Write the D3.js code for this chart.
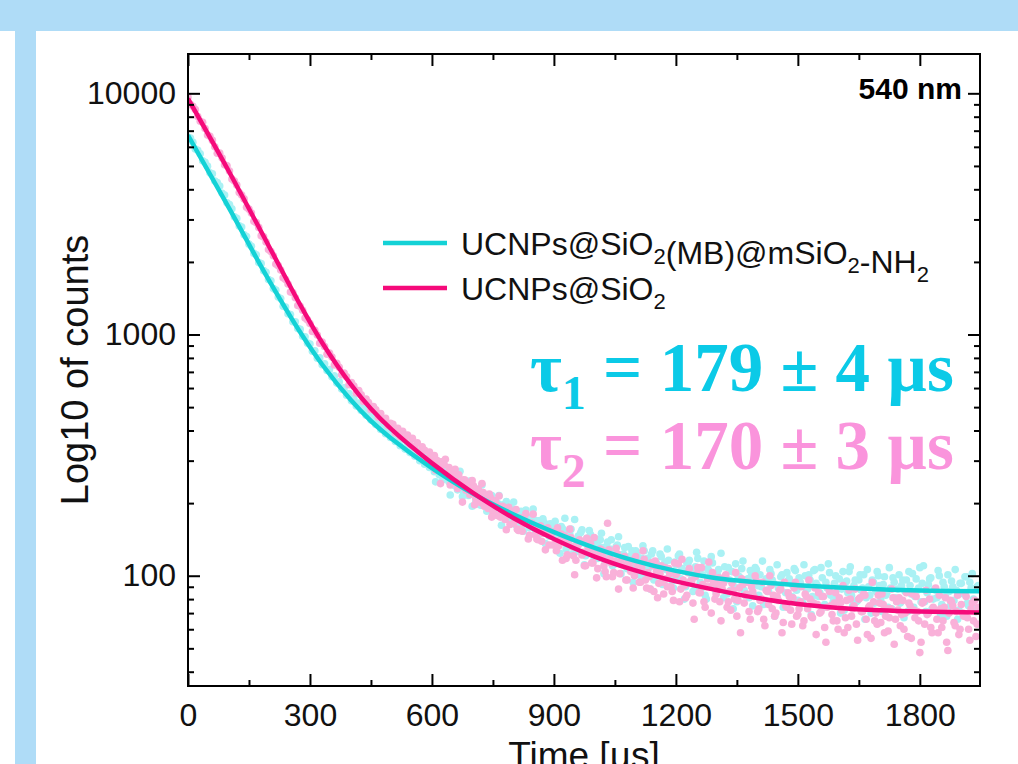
<!DOCTYPE html>
<html>
<head>
<meta charset="utf-8">
<script src="https://cdn.jsdelivr.net/npm/d3@7"></script>
<style>
body { margin: 0; background: #fff; }
text { font-family: "Liberation Sans", Arial, sans-serif; }
</style>
</head>
<body>
<script>
// decay data: one count value every tStep microseconds starting at 0,
// plus a second, interleaved run of samples for the later part of the decay
const tStep = 6;
const lateStart = 603;

const pinkCounts = [
  9640,9010,8830,8560,8010,7660,7590,7150,6720,6640,
  6380,6000,5640,5650,5390,5060,5010,4760,4410,4330,
  4170,3880,3790,3650,3370,3310,3190,2950,2910,2780,
  2570,2540,2420,2250,2210,2120,1960,1930,1850,1720,
  1690,1620,1500,1490,1420,1320,1310,1260,1170,1150,
  1110,1030,1040,995,921,930,892,829,838,806,
  748,760,731,681,692,668,619,632,611,572,
  586,563,528,540,522,489,503,487,455,470,
  441,449,420,428,
  424,391,409,378,397,369,383,351,371,344,
  356,325,342,331,307,326,296,315,301,280,
  297,289,264,281,258,271,246,262,239,250,
  226,243,221,
  236,209,229,201,221,215,190,211,184,205,
  196,175,194,171,188,163,182,176,156,174,
  153,170,166,147,165,160,142,158,139,156,
  151,134,149,
  152,127,133,149,141,118,137,144,121,116,
  134,139,125,110,131,136,113,124,107,129,
  120,104,165,118,99,115,123,102,111,120,
  96,109,116,100,
  112,94,108,117,89,99,113,86,104,93,
  110,84,97,107,90,79,101,112,88,96,
  81,103,95,77,99,108,85,92,74,97,
  90,103,80,
  92,78,88,99,74,86,93,80,68,89,
  97,77,84,71,90,82,95,73,80,66,
  87,76,91,83,70,79,88,64,75,85,
  72,81,94,69,
  78,62,84,73,80,67,89,76,70,82,
  61,74,86,69,77,65,81,72,58,79,
  87,68,75,63,80,71,84,66,74,55,
  78,70,83,64,
  76,68,59,73,81,66,72,62,79,70,
  56,75,84,67,71,48,77,63,69,80,
  58,72,66,83,61,74,53,70,78,64,
  71,57,76,68,82,60,73,65,56,74
];

const pinkLate = [
  314,274,287,241,288,304,258,238,263,276,
  230,243,202,249,235,217,248,197,226,208,
  241,194,203,218,175,202,178,214,181,186,
  155,192,185,165,188,154,171,164,181,142,
  165,180,148,141,161,150,128,158,149,134,
  135,158,141,116,146,122,156,132,101,136,
  141,122,110,143,127,113,144,98,122,128,
  110,99,128,113,103,130,88,115,119,96,
  114,104,89,120,107,94,127,96,103,88,
  110,115,81,102,94,108,90,102,86,113,
  103,78,117,91,83,107,95,66,102,85,
  108,78,90,114,70,94,84,98,65,93,
  101,78,72,87,103,79,58,92,83,94,
  66,86,100,71,79,94,62,86,100,73,
  68,82,87,58,94,74,82,63,89,68,
  73,90,65,82,96,68,77,57,85,71,
  82,53,89,75,65,85,60,77,91,67,
  61,80,73,88,54,81,71,83,57,75,
  94,65,63,77,84,58,73,67,88,52,
  78,81,69,60,85,77,55,72,82,65,
  53,78,87,70,61,74,89,58,73,65,
  81,49,79,75,62,83,60,70,85,67,
  54,77,79,63
];

const cyanCounts = [
  6590,6530,6270,5880,5810,5610,5250,5180,4990,4680,
  4640,4330,4270,4130,3850,3790,3520,3460,3320,3080,
  3030,2820,2790,2590,2550,2370,2320,2170,2140,1990,
  1970,1840,1810,1690,1670,1550,1530,1430,1410,1310,
  1300,1220,1210,1130,1130,1060,1050,984,979,921,
  913,852,856,797,800,749,757,709,716,668,
  675,629,637,594,602,560,569,531,543,506,
  520,484,497,463,476,442,455,424,436,404,
  416,388,401,374,
  392,360,377,346,367,335,354,324,342,313,
  329,300,318,290,308,281,297,270,288,262,
  277,252,268,245,261,237,252,230,245,223,
  238,215,231,
  229,203,222,196,216,211,189,209,185,204,
  199,179,197,175,193,171,189,184,166,184,
  163,179,175,158,174,170,153,169,150,166,
  162,146,161,
  163,139,144,160,153,129,149,156,132,127,
  146,151,137,121,143,148,124,136,118,141,
  131,114,138,129,110,127,134,112,122,131,
  107,120,127,110,
  122,104,118,127,99,108,123,96,113,102,
  120,93,106,116,99,89,111,121,97,105,
  90,113,104,86,109,118,94,101,83,107,
  99,113,89,
  101,88,97,109,84,96,104,90,78,99,
  107,87,94,81,100,92,106,83,90,76,
  97,86,102,93,80,89,99,74,85,95,
  82,91,105,79,
  94,77,100,88,96,82,106,91,85,98,
  76,89,103,84,93,80,97,88,72,95,
  104,83,91,78,96,87,101,81,90,70,
  94,86,100,79,
  92,83,74,89,98,81,88,77,96,86,
  71,91,102,82,87,108,93,78,85,97,
  73,88,81,100,76,90,68,86,95,79,
  87,72,93,84,99,75,89,80,71,91
];

const cyanLate = [
  295,245,277,297,251,256,276,216,257,261,
  227,271,213,233,220,247,194,230,220,198,
  238,203,185,212,215,188,196,215,162,195,
  203,172,179,202,162,181,185,153,187,163,
  168,189,151,169,152,172,136,158,164,148,
  168,142,124,157,173,141,149,123,171,126,
  138,155,111,143,154,124,117,142,132,150,
  102,132,121,141,111,132,145,102,123,110,
  132,115,94,127,119,100,133,108,118,88,
  127,111,100,123,92,114,129,100,95,114,
  96,123,107,80,113,116,97,87,125,102,
  89,115,80,105,120,96,86,106,124,81,
  97,108,87,73,112,100,90,115,83,97,
  105,75,108,91,101,115,79,87,106,96,
  68,111,91,101,76,103,97,82,107,87,
  98,78,111,88,101,69,105,93,82,108,
  74,94,112,83,78,100,89,70,104,94,
  85,109,75,96,79,101,89,66,106,83,
  96,77,104,91,71,99,85,108,73,94,
  80,101,91,67,96,104,84,74,97,89,
  78,110,71,92,98,80,87,105,69,94,
  82,101,75,90,106,66,93,85,99,77,
  94,102,73,90
];

// fitted decay curves
const fitTimes = [0,100,200,280,330,400,450,500,600,700,800,900,1000,1100,1200,1300,1400,1500,1600,1700,1800,1948];
const pinkFit  = [9500,4764,2307,1291,925,623,492,405,293,221,173.6,142,120,105.2,94.8,87.2,80.8,76.3,73.5,71.9,71.0,70.4];
const cyanFit  = [6700,3365,1669,997,751,536,438,371,279.5,219.5,179.9,151.7,130.6,115.3,104.7,97.7,94.0,91.4,89.3,87.8,86.8,86.2];

const xTicks = [0,300,600,900,1200,1500,1800];
const xMinor = [150,450,750,1050,1350,1650];
const yTicks = [100,1000,10000];
const yMinor = [40,50,60,70,80,90,200,300,400,500,600,700,800,900,2000,3000,4000,5000,6000,7000,8000,9000];

const W = 1018, H = 764;
const m = {l: 188, t: 54, r: 980, b: 686};

const svg = d3.select("body").append("svg")
  .attr("width", W)
  .attr("height", H);

svg.append("rect").attr("width", W).attr("height", H).attr("fill", "#fff");
// light blue frame strips
svg.append("rect").attr("x", 0).attr("y", 0).attr("width", W).attr("height", 31).attr("fill", "#afdcf7");
svg.append("rect").attr("x", 15).attr("y", 31).attr("width", 21).attr("height", H - 31).attr("fill", "#afdcf7");

const x = d3.scaleLinear().domain([0, 1948]).range([m.l, m.r]);
const y = d3.scaleLog().domain([34.9, 14555]).range([m.b, m.t]);

svg.append("clipPath").attr("id", "plot")
  .append("rect")
  .attr("x", m.l).attr("y", m.t)
  .attr("width", m.r - m.l).attr("height", m.b - m.t);

const data = svg.append("g").attr("clip-path", "url(#plot)");

function dots(counts, t0, color) {
  data.append("g")
    .selectAll("circle")
    .data(counts)
    .join("circle")
    .attr("cx", (d, i) => x(t0 + i * tStep))
    .attr("cy", d => y(d))
    .attr("r", 3.8)
    .attr("fill", color);
}
dots(cyanCounts, 0, "#aaf1f4");
dots(cyanLate, lateStart, "#aaf1f4");
dots(pinkCounts, 0, "#f9b1d9");
dots(pinkLate, lateStart, "#f9b1d9");

const line = d3.line()
  .x((d, i) => x(fitTimes[i]))
  .y(d => y(d))
  .curve(d3.curveCatmullRom.alpha(0.5));

data.append("path").attr("d", line(cyanFit))
  .attr("fill", "none").attr("stroke", "#14d2d6").attr("stroke-width", 4.5);
data.append("path").attr("d", line(pinkFit))
  .attr("fill", "none").attr("stroke", "#f50a7a").attr("stroke-width", 4.5);

// axes, ticks pointing inward on all four sides
function styleAxis(g) {
  g.select(".domain").remove();
  g.selectAll(".tick line").attr("stroke", "#000").attr("stroke-width", 2);
  g.selectAll(".tick text").attr("fill", "#111").style("font-size", "32px")
    .style("font-family", "'Liberation Sans', Arial, sans-serif");
}

svg.append("g").attr("transform", `translate(0,${m.b})`)
  .call(d3.axisBottom(x).tickValues(xTicks).tickSize(-12).tickPadding(17).tickFormat(d3.format("d")))
  .call(styleAxis);
svg.append("g").attr("transform", `translate(0,${m.b})`)
  .call(d3.axisBottom(x).tickValues(xMinor).tickSize(-6).tickFormat(""))
  .call(styleAxis);
svg.append("g").attr("transform", `translate(0,${m.t})`)
  .call(d3.axisTop(x).tickValues(xTicks).tickSize(-12).tickFormat(""))
  .call(styleAxis);
svg.append("g").attr("transform", `translate(0,${m.t})`)
  .call(d3.axisTop(x).tickValues(xMinor).tickSize(-6).tickFormat(""))
  .call(styleAxis);

svg.append("g").attr("transform", `translate(${m.l},0)`)
  .call(d3.axisLeft(y).tickValues(yTicks).tickSize(-12).tickPadding(12).tickFormat(d3.format("d")))
  .call(styleAxis);
svg.append("g").attr("transform", `translate(${m.l},0)`)
  .call(d3.axisLeft(y).tickValues(yMinor).tickSize(-6).tickFormat(""))
  .call(styleAxis);
svg.append("g").attr("transform", `translate(${m.r},0)`)
  .call(d3.axisRight(y).tickValues(yTicks).tickSize(-12).tickFormat(""))
  .call(styleAxis);
svg.append("g").attr("transform", `translate(${m.r},0)`)
  .call(d3.axisRight(y).tickValues(yMinor).tickSize(-6).tickFormat(""))
  .call(styleAxis);

svg.append("rect")
  .attr("x", m.l).attr("y", m.t)
  .attr("width", m.r - m.l).attr("height", m.b - m.t)
  .attr("fill", "none").attr("stroke", "#000").attr("stroke-width", 2);

// axis titles
svg.append("text")
  .attr("transform", `translate(88,${(m.t + m.b) / 2}) rotate(-90)`)
  .attr("text-anchor", "middle")
  .style("font-size", "38px").attr("fill", "#111")
  .text("Log10 of counts");

svg.append("text")
  .attr("x", (m.l + m.r) / 2).attr("y", 768)
  .attr("text-anchor", "middle")
  .style("font-size", "37px").attr("fill", "#111")
  .text("Time [µs]");

svg.append("text")
  .attr("x", 962).attr("y", 99)
  .attr("text-anchor", "end")
  .style("font-size", "30px").style("font-weight", "bold").attr("fill", "#000")
  .text("540 nm");

// legend
const legend = [
  {color: "#14d2d6", y: 243, parts: [["UCNPs@SiO"], ["2", 1], ["(MB)@mSiO"], ["2", 1], ["-NH"], ["2", 1]]},
  {color: "#f50a7a", y: 288, parts: [["UCNPs@SiO"], ["2", 1]]}
];
legend.forEach(e => {
  svg.append("line")
    .attr("x1", 383).attr("x2", 447).attr("y1", e.y).attr("y2", e.y)
    .attr("stroke", e.color).attr("stroke-width", 4.5);
  const t = svg.append("text")
    .attr("x", 461).attr("y", e.y + 12)
    .style("font-size", "32px").attr("fill", "#111");
  e.parts.forEach(p => {
    t.append("tspan")
      .style("font-size", p[1] ? "22px" : "32px")
      .attr("dy", p[1] ? 9 : 0)
      .text(p[0]);
    if (p[1]) t.append("tspan").attr("dy", -9).text("");
  });
});

// lifetimes
const lifetimes = [
  {sub: "1", rest: " = 179 ± 4 µs", color: "#0bcae7", y: 391},
  {sub: "2", rest: " = 170 ± 3 µs", color: "#fa94dc", y: 469}
];
lifetimes.forEach(d => {
  const t = svg.append("text")
    .attr("x", 530).attr("y", d.y)
    .attr("fill", d.color)
    .style("font-family", "'Liberation Serif', 'Times New Roman', serif")
    .style("font-weight", "bold")
    .style("font-size", "69px");
  t.append("tspan").text("τ");
  t.append("tspan").attr("dy", 18).style("font-size", "48px").text(d.sub);
  t.append("tspan").attr("dy", -18).text(d.rest);
});
</script>
</body>
</html>
